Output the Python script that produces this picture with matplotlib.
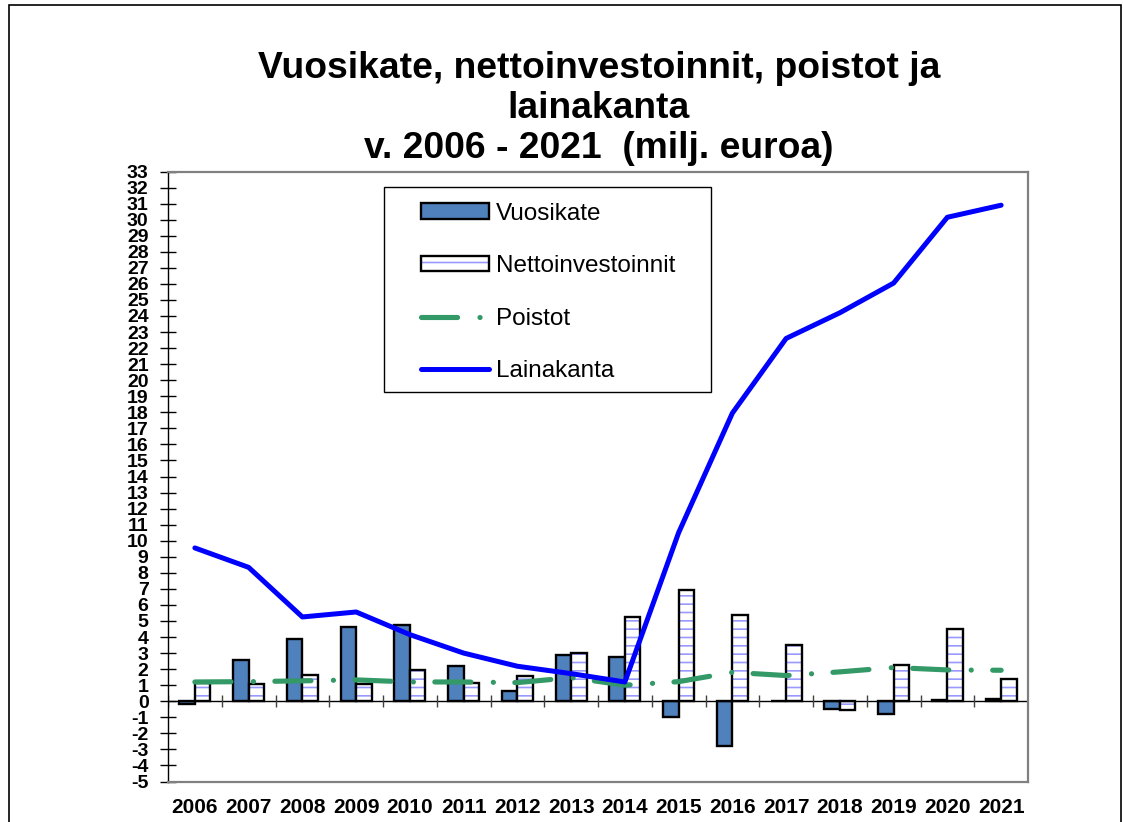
import numpy as np
import matplotlib
matplotlib.use("Agg")
import matplotlib.pyplot as plt
from matplotlib.patches import Patch, Rectangle
from matplotlib.lines import Line2D
from matplotlib.legend_handler import HandlerTuple

plt.rcParams['font.family'] = ['Liberation Sans', 'DejaVu Sans']
plt.rcParams['lines.scale_dashes'] = False
plt.rcParams['hatch.linewidth'] = 1.2

years = ['2006', '2007', '2008', '2009', '2010', '2011', '2012', '2013',
         '2014', '2015', '2016', '2017', '2018', '2019', '2020', '2021']
vuosikate = [-0.2, 2.6, 3.88, 4.6, 4.73, 2.22, 0.66, 2.9,
             2.74, -0.98, -2.76, 0.0, -0.48, -0.8, 0.05, 0.15]
nettoinvestoinnit = [1.14, 1.1, 1.62, 1.1, 1.93, 1.14, 1.56, 3.0,
                     5.23, 6.9, 5.35, 3.5, -0.54, 2.26, 4.52, 1.37]
poistot = [1.2, 1.22, 1.27, 1.33, 1.2, 1.2, 1.16, 1.47,
           1.0, 1.22, 1.8, 1.6, 1.83, 2.1, 1.95, 1.93]
lainakanta = [9.55, 8.34, 5.25, 5.56, 4.15, 3.0, 2.18, 1.72,
              1.2, 10.5, 17.95, 22.6, 24.2, 26.05, 30.15, 30.9]
yticks = list(range(-5, 34))

W, H = 1123, 822
fig = plt.figure(figsize=(W / 100, H / 100), dpi=100)
ax = fig.add_axes([168 / W, 1 - 781.5 / H, (1028 - 168) / W, (781.5 - 171.5) / H])

x = np.arange(len(years))
bw = 0.29
BLUE_FILL = '#4F81BD'
HATCH_C = '#9999FF'
GREEN = '#339966'

ax.bar(x - bw / 2, vuosikate, bw, color=BLUE_FILL, edgecolor='black', linewidth=1.7, zorder=2)
ax.bar(x + bw / 2, nettoinvestoinnit, bw, color='white', edgecolor=HATCH_C,
       hatch='--', linewidth=0, zorder=2)
ax.bar(x + bw / 2, nettoinvestoinnit, bw, fill=False, edgecolor='black', linewidth=1.7, zorder=2.1)

ax.axhline(0, color='black', lw=1, zorder=2.5)
bounds = np.arange(len(years) + 1) - 0.5
ax.vlines(bounds, -0.37, 0.37, color='#404040', lw=1, zorder=2.5)

dash = (0, (26, 16.1, 0.1, 15.4))
ln_p, = ax.plot(x, poistot, color=GREEN, lw=3.7, linestyle=dash,
                dash_capstyle='round', zorder=3)
ln_l, = ax.plot(x, lainakanta, color='#0000FF', lw=3.6, zorder=4,
                solid_capstyle='round')

ax.set_xlim(-0.5, len(years) - 0.5)
ax.set_ylim(-5, 33)
ax.set_yticks(yticks)
ax.set_yticklabels([str(t) for t in yticks], fontsize=14, fontweight='bold')
ax.tick_params(axis='y', direction='inout', length=12, width=1, pad=8, colors='black')
ax.set_xticks(x)
ax.set_xticklabels(years, fontsize=15, fontweight='bold')
ax.tick_params(axis='x', length=0, pad=12)

for s in ['top', 'right', 'bottom']:
    ax.spines[s].set_color('#808080')
    ax.spines[s].set_linewidth(1.6)
ax.spines['left'].set_color('black')
ax.spines['left'].set_linewidth(1)

# Title
fig.text(599 / W, 1 - 51 / H,
         'Vuosikate, nettoinvestoinnit, poistot ja\nlainakanta\nv. 2006 - 2021  (milj. euroa)',
         ha='center', va='top', fontsize=26.8, fontweight='bold', linespacing=1.18, zorder=5)

# Legend
h_v = Patch(facecolor=BLUE_FILL, edgecolor='black', linewidth=1.7)
h_n = (Patch(facecolor='white', edgecolor=HATCH_C, hatch='--', linewidth=0),
       Patch(fill=False, edgecolor='black', linewidth=1.7))
h_p = Line2D([], [], color=GREEN, lw=3.7, linestyle=(0, (26, 16.1, 0.1, 15.4)),
             dash_capstyle='round')
h_l = Line2D([], [], color='#0000FF', lw=3.6, solid_capstyle='round')
leg = fig.legend([h_v, h_n, h_p, h_l],
                 ['Vuosikate', 'Nettoinvestoinnit', 'Poistot', 'Lainakanta'],
                 handler_map={tuple: HandlerTuple(ndivide=1, pad=0)},
                 loc='upper left', bbox_to_anchor=(420.7 / W, 1 - 202.5 / H),
                 frameon=False, borderpad=0, borderaxespad=0,
                 prop={'size': 17.5}, handlelength=2.8, handleheight=0.6,
                 handletextpad=0.3, labelspacing=1.26)
fig.add_artist(Rectangle((384 / W, 1 - 392 / H), (711 - 384) / W, (392 - 186.7) / H,
                         transform=fig.transFigure, fill=False, edgecolor='black', lw=1))

# Outer border
fig.add_artist(Rectangle((9 / W, -0.05), (1121 - 9) / W, 1.05 - 5 / H,
                         transform=fig.transFigure, fill=False, edgecolor='black', lw=1.2))

fig.savefig('out.png', dpi=100, facecolor='white')
